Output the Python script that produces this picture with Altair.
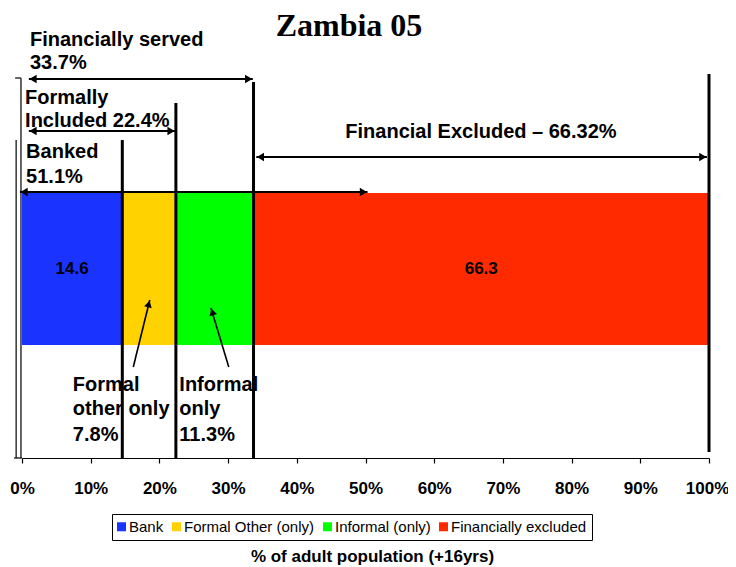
import altair as alt
import pandas as pd

# ---- data ----
categories = ["Bank", "Formal Other (only)", "Informal (only)", "Financially excluded"]
shares = [14.6, 7.8, 11.3, 66.3]
colors = ["#1a33ff", "#ffd200", "#00ff00", "#ff2a00"]
tick_values = [0, 10, 20, 30, 40, 50, 60, 70, 80, 90, 100]
bar_labels = ["14.6", "", "", "66.3"]

title_text = "Zambia 05"
x_title = "% of adult population (+16yrs)"

FONT = "Liberation Sans"

ends = pd.Series(shares).cumsum().round(1).tolist()
starts = [0.0] + ends[:-1]

bars_df = pd.DataFrame({
    "category": categories,
    "start": starts,
    "end": ends,
    "mid": [(s + e) / 2 for s, e in zip(starts, ends)],
    "label": bar_labels,
    "top": 185,
    "bottom": 337,
})

xs = alt.Scale(domain=[0, 100], nice=False, zero=False)
ys = alt.Scale(domain=[0, 450], reverse=True, nice=False, zero=False)

AXIS = alt.Axis(values=tick_values, labelExpr="datum.value + '%'",
                grid=False, domainColor="black", tickColor="black",
                tickSize=5, domainWidth=1.2, tickWidth=1.2,
                labelFont=FONT, labelFontSize=17, labelFontWeight="bold",
                labelColor="black", labelPadding=17, labelFlush=False,
                labelOverlap=False,
                labelOffset={"condition": {"test": "datum.value == 100", "value": -2},
                             "value": 0},
                title=x_title, titleFont=FONT, titleFontSize=17,
                titleFontWeight="bold", titleColor="black",
                titlePadding=52, titleX=350, titleAlign="center")


def X(f):
    return alt.X(f, scale=xs, axis=AXIS)


def Y(f):
    return alt.Y(f, scale=ys, axis=None)


bars = alt.Chart(bars_df).mark_bar().encode(
    x=X("start:Q"),
    x2="end:Q",
    y=Y("top:Q"),
    y2="bottom:Q",
    color=alt.Color("category:N",
                    scale=alt.Scale(domain=categories, range=colors),
                    sort=categories,
                    legend=alt.Legend(orient="none", legendX=90, legendY=506,
                                      direction="horizontal", columns=4, title=None,
                                      symbolType="square", symbolSize=81,
                                      symbolStrokeWidth=0, symbolOffset=-3,
                                      labelFont=FONT,
                                      labelFontSize=15, labelColor="black",
                                      labelOffset=0, columnPadding=8,
                                      padding=5, strokeColor="black",
                                      fillColor="white")),
)

bar_text = alt.Chart(bars_df).transform_filter("datum.label != ''").transform_calculate(
    y="261"
).mark_text(
    font=FONT, fontSize=17, fontWeight="bold", color="black", baseline="middle"
).encode(x=X("mid:Q"), y=Y("y:Q"), text="label:N")

# vertical boundary lines
vlines_df = pd.DataFrame({
    "x": [ends[0], ends[1], ends[2], ends[3]],
    "y1": [132, 95, 74, 66],
    "y2": [450, 450, 450, 444],
})
vlines = alt.Chart(vlines_df).mark_rule(color="black", strokeWidth=3).encode(
    x=X("x:Q"), y=Y("y1:Q"), y2="y2:Q")

# left thin lines (bracket) and axis stub left of 0%
thin_df = pd.DataFrame({
    "x": [-0.15, -0.85, -1.0],
    "x2": [-0.15, -0.85, -0.15],
    "y1": [70, 132, 70],
    "y2": [450, 450, 70],
})
thin = alt.Chart(thin_df).mark_rule(color="#333333", strokeWidth=1.5).encode(
    x=X("x:Q"), x2="x2:Q", y=Y("y1:Q"), y2="y2:Q")
stub_df = pd.DataFrame({"x": [-1.15], "x2": [0.0], "y": [450]})
stub = alt.Chart(stub_df).mark_rule(color="black", strokeWidth=1.2).encode(
    x=X("x:Q"), x2="x2:Q", y=Y("y:Q"))

# horizontal arrows
arrows_df = pd.DataFrame({
    "x1": [1.0, 1.0, -0.3, 34.1],
    "x2": [33.6, 22.3, 50.3, 99.7],
    "y": [71, 123, 184, 149],
})
arrow_lines = alt.Chart(arrows_df).mark_rule(color="black", strokeWidth=2.2).encode(
    x=X("x1:Q"), x2="x2:Q", y=Y("y:Q"))

heads_l = alt.Chart(arrows_df).transform_calculate(hx="datum.x1 + 0.6").mark_point(
    shape="triangle-left", filled=True, color="black", size=70, opacity=1
).encode(x=X("hx:Q"), y=Y("y:Q"))
heads_r = alt.Chart(arrows_df).transform_calculate(hx="datum.x2 - 0.6").mark_point(
    shape="triangle-right", filled=True, color="black", size=70, opacity=1
).encode(x=X("hx:Q"), y=Y("y:Q"))

# diagonal pointer arrows
diag_df = pd.DataFrame({
    "x1": [16.2, 30.1],
    "y1": [359, 359],
    "x2": [18.6, 27.5],
    "y2": [292, 300],
    "hx": [18.45, 27.7],
    "hy": [296, 304],
    "ang": [14, 343],
})
diag = alt.Chart(diag_df).mark_rule(color="black", strokeWidth=1.6).encode(
    x=X("x1:Q"), x2="x2:Q", y=Y("y1:Q"), y2="y2:Q")
diag_heads = alt.Chart(diag_df).mark_point(
    shape="triangle-up", filled=True, color="black", size=60, opacity=1
).encode(x=X("hx:Q"), y=Y("hy:Q"), angle=alt.Angle("ang:Q", scale=None))

# annotation texts (left aligned, alphabetic baseline)
texts_df = pd.DataFrame({
    "text": ["Financially served", "33.7%", "Formally", "Included 22.4%",
             "Banked", "51.1%",
             "Formal", "other only", "7.8%",
             "Informal", "only", "11.3%"],
    "x": [1.16, 1.16, 0.45, 0.45, 0.6, 0.6,
          7.4, 7.4, 7.4, 22.9, 22.9, 22.9],
    "y": [38, 61, 96, 119, 150, 175,
          383, 407, 433, 383, 407, 433],
})
texts = alt.Chart(texts_df).mark_text(
    font=FONT, fontSize=20, fontWeight="bold", color="black",
    align="left", baseline="alphabetic"
).encode(x=X("x:Q"), y=Y("y:Q"), text="text:N")

excl_df = pd.DataFrame({"text": ["Financial Excluded \u2013 66.32%"], "x": [66.8], "y": [130]})
excl_text = alt.Chart(excl_df).mark_text(
    font=FONT, fontSize=20, fontWeight="bold", color="black",
    align="center", baseline="alphabetic"
).encode(x=X("x:Q"), y=Y("y:Q"), text="text:N")

title_df = pd.DataFrame({"text": [title_text], "x": [47.6], "y": [28]})
title = alt.Chart(title_df).mark_text(
    font="Liberation Serif", fontSize=32, fontWeight="bold", color="black",
    align="center", baseline="alphabetic"
).encode(x=X("x:Q"), y=Y("y:Q"), text="text:N")

chart = alt.layer(
    bars, thin, stub, vlines, arrow_lines, heads_l, heads_r, diag, diag_heads,
    bar_text, texts, excl_text, title
).properties(
    width=687, height=450,
    padding={"left": 14, "top": 0, "right": 19, "bottom": 109},
    autosize=alt.AutoSizeParams(type="none"),
    background="white",
).configure_view(strokeWidth=0)

chart.save("out.html", embed_options={"renderer": "svg", "actions": False})
